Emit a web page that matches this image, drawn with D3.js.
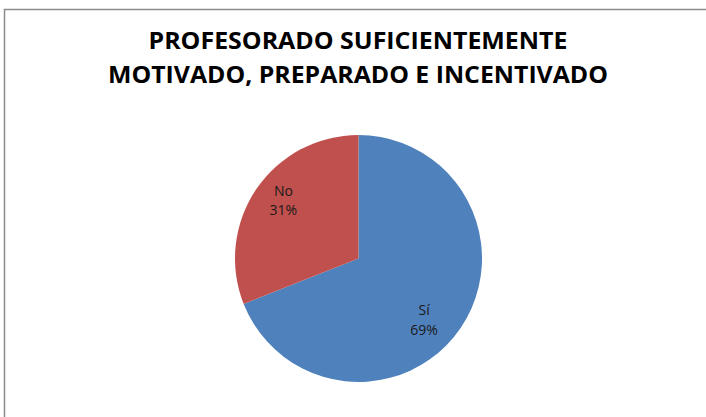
<!DOCTYPE html>
<html>
<head>
<meta charset="utf-8">
<script src="https://cdn.jsdelivr.net/npm/d3@7"></script>
<style>
  html, body { margin: 0; padding: 0; background: #fff; }
  svg { display: block; }
</style>
</head>
<body>
<svg id="chart" width="706" height="417"></svg>
<script>
// Survey answers and their shares
const categories = ["Sí", "No"];
const values = [69, 31];
const percentLabels = ["69%", "31%"];
const colors = ["#4F81BD", "#C0504D"];
const titleLines = ["PROFESORADO SUFICIENTEMENTE", "MOTIVADO, PREPARADO E INCENTIVADO"];

const svg = d3.select("#chart");
const W = 706, H = 417;

// chart frame
svg.append("rect")
  .attr("x", 4.5).attr("y", 9.5)
  .attr("width", W).attr("height", H)
  .attr("fill", "#fff")
  .attr("stroke", "#8c8c8c")
  .attr("stroke-width", 1.5);

// title
const title = svg.append("g")
  .attr("font-family", "'Open Sans', 'Noto Sans', sans-serif")
  .attr("font-weight", "bold")
  .attr("fill", "#000")
  .attr("text-anchor", "middle");
const titleWidths = [419, 500];
title.selectAll("text").data(titleLines).join("text")
  .attr("x", 358)
  .attr("y", (d, i) => 49 + i * 34)
  .attr("font-size", 22.5)
  .attr("textLength", (d, i) => titleWidths[i])
  .attr("lengthAdjust", "spacingAndGlyphs")
  .text(d => d);

// pie
const cx = 358.5, cy = 258.5, r = 123.5;
const pie = d3.pie().sort(null).value(d => d.value);
const data = categories.map((c, i) => ({ name: c, value: values[i], label: percentLabels[i], color: colors[i] }));
const arcs = pie(data);
const arc = d3.arc().innerRadius(0).outerRadius(r);
const labelArc = d3.arc().innerRadius(r * 0.75).outerRadius(r * 0.75);

const g = svg.append("g").attr("transform", `translate(${cx},${cy})`);
g.selectAll("path").data(arcs).join("path")
  .attr("d", arc)
  .attr("fill", d => d.data.color)
  .attr("stroke", "none");

// data labels sit near the slice centroid, pulled toward the horizontal
// so the two-line block stays clear of the slice edges
const nudge = [[-11, 8.5], [1.5, -6.5]];
const labels = g.selectAll("g.lbl").data(arcs).join("g")
  .attr("class", "lbl")
  .attr("transform", (d, i) => {
    const [x, y] = labelArc.centroid(d);
    return `translate(${x + nudge[i][0]},${y + nudge[i][1]})`;
  })
  .attr("font-family", "'Open Sans', 'Noto Sans', sans-serif")
  .attr("font-size", 14)
  .attr("fill", "#1a1a1a")
  .attr("text-anchor", "middle");
labels.append("text").attr("y", -4).text(d => d.data.name);
labels.append("text").attr("y", 15.5).text(d => d.data.label);
</script>
</body>
</html>
